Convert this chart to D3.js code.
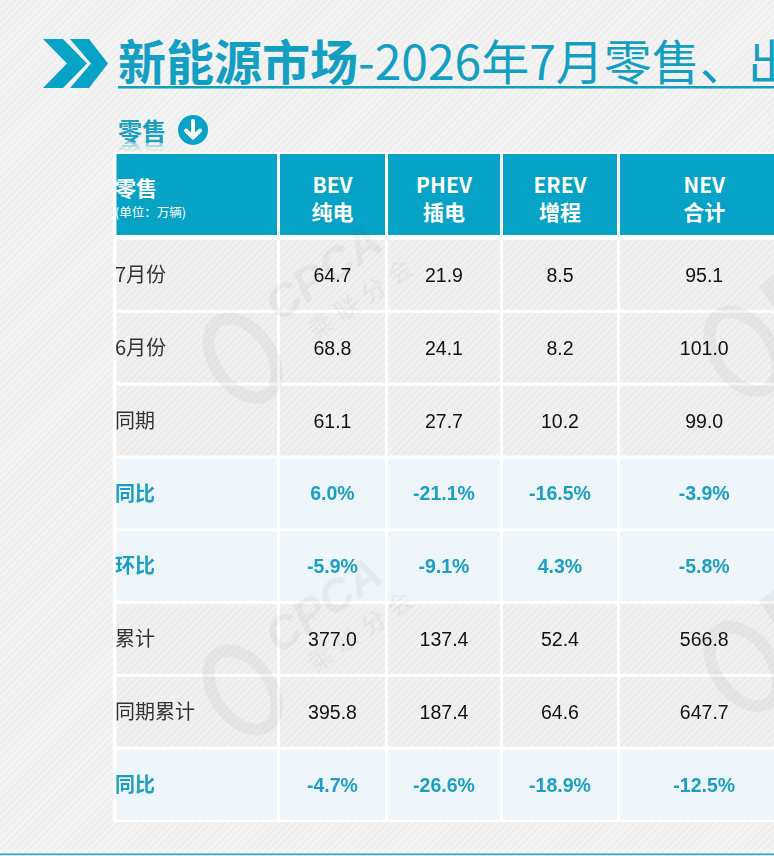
<!DOCTYPE html>
<html><head><meta charset="utf-8">
<script src="https://cdn.jsdelivr.net/npm/d3@7"></script>
<style>
html,body{margin:0;padding:0;background:#f3f3f3;overflow:hidden;}
svg{display:block;}
</style></head>
<body>
<svg id="chart" width="774" height="856"></svg>
<script>
// ---- data ----
const titleBold = "新能源市场";
const titleRest = "-2026年7月零售、出";
const sectionTitle = "零售";
const cornerLabel = "零售";
const unitLabel = "(单位：万辆)";
const seriesCodes = ["BEV", "PHEV", "EREV", "NEV"];
const seriesNames = ["纯电", "插电", "增程", "合计"];
const rowLabels = ["7月份", "6月份", "同期", "同比", "环比", "累计", "同期累计", "同比"];
const rowIsPct = [false, false, false, true, true, false, false, true];
const bev  = [64.7, 68.8, 61.1, 6.0, -5.9, 377.0, 395.8, -4.7];
const phev = [21.9, 24.1, 27.7, -21.1, -9.1, 137.4, 187.4, -26.6];
const erev = [8.5, 8.2, 10.2, -16.5, 4.3, 52.4, 64.6, -18.9];
const nev  = [95.1, 101.0, 99.0, -3.9, -5.8, 566.8, 647.7, -12.5];
const series = [bev, phev, erev, nev];

// ---- style ----
const TEAL = "#07a3c6";
const TEXT_TEAL = "#1d9fc5";
const CJK = "'Noto Sans CJK SC','Noto Sans',sans-serif";
const NUM = "'Liberation Sans',Arial,sans-serif";

const svg = d3.select("#chart");
const defs = svg.append("defs");

function stripes(id, bg, line) {
  const p = defs.append("pattern").attr("id", id).attr("patternUnits", "userSpaceOnUse")
    .attr("width", 5).attr("height", 5).attr("patternTransform", "rotate(-45)");
  p.append("rect").attr("width", 5).attr("height", 5).attr("fill", bg);
  p.append("rect").attr("width", 5).attr("height", 1.6).attr("fill", line);
}
stripes("bgStripe", "#f4f4f4", "#ececec");
stripes("cellStripe", "#f1f1f1", "#e9e9e9");

svg.append("rect").attr("width", 774).attr("height", 856).attr("fill", "url(#bgStripe)");

// ---- title ----
const chev = d3.line();
const chevA = [[43,39],[63,39],[87,63.5],[63,88],[43,88],[67,63.5]];
const chevB = [[70,39],[89,39],[108,63.5],[89,88],[70,88],[91,63.5]];
svg.append("path").attr("d", chev(chevA) + "Z").attr("fill", TEAL);
svg.append("path").attr("d", chev(chevB) + "Z").attr("fill", TEAL);

const title = svg.append("text").attr("x", 118).attr("y", 80)
  .attr("font-family", CJK).attr("font-size", 48).attr("fill", "#139fc2");
title.append("tspan").attr("font-weight", 700).text(titleBold);
title.append("tspan").attr("font-weight", 400).text(titleRest);
svg.append("rect").attr("x", 118).attr("y", 86).attr("width", 700).attr("height", 2.5).attr("fill", "#139fc2");

// section title with reflection
const grad = defs.append("linearGradient").attr("id", "fade").attr("x1", 0).attr("y1", 0).attr("x2", 0).attr("y2", 1);
grad.append("stop").attr("offset", "0%").attr("stop-color", "#fff").attr("stop-opacity", 0.55);
grad.append("stop").attr("offset", "45%").attr("stop-color", "#fff").attr("stop-opacity", 0);
defs.append("mask").attr("id", "fadeMask").attr("maskUnits", "userSpaceOnUse")
  .append("rect").attr("x", 110).attr("y", 141).attr("width", 80).attr("height", 24).attr("fill", "url(#fade)");
svg.append("text").attr("id", "secTitle").attr("x", 118).attr("y", 140).attr("font-family", CJK).attr("font-weight", 700)
  .attr("font-size", 24).attr("fill", TEXT_TEAL).text(sectionTitle);
svg.append("g").attr("mask", "url(#fadeMask)")
  .append("use").attr("href", "#secTitle").attr("transform", "translate(0,282) scale(1,-1)");
svg.append("circle").attr("cx", 193).attr("cy", 130).attr("r", 15).attr("fill", TEAL);
svg.append("path").attr("d", "M193,121 L193,137 M186,130.5 L193,137.5 L200,130.5")
  .attr("stroke", "#fff").attr("stroke-width", 4).attr("fill", "none")
  .attr("stroke-linecap", "round").attr("stroke-linejoin", "round");

// ---- table layout ----
const colEdges = [115, 278.5, 386.5, 501.5, 618.5, 790];
const x0 = i => colEdges[i] + 1.5;
const wCol = i => colEdges[i + 1] - colEdges[i] - 3;
const headerTop = 154, headerBottom = 235;
const y = d3.scaleBand().domain(d3.range(rowLabels.length)).range([238.5, 821]).paddingInner(0.04).paddingOuter(0.02);

svg.append("rect").attr("x", 113).attr("y", 152).attr("width", 700).attr("height", 670).attr("fill", "#ffffff");

// header
const head = svg.append("g");
d3.range(5).forEach(i => {
  head.append("rect").attr("x", x0(i)).attr("y", headerTop).attr("width", wCol(i))
    .attr("height", headerBottom - headerTop).attr("fill", TEAL);
});
head.append("text").attr("x", 115).attr("y", 196).attr("font-family", CJK).attr("font-weight", 700)
  .attr("font-size", 21).attr("fill", "#fff").text(cornerLabel);
head.append("text").attr("x", 115).attr("y", 217).attr("font-family", CJK)
  .attr("font-size", 12.5).attr("fill", "#fff").text(unitLabel);
seriesCodes.forEach((c, k) => {
  const cx = x0(k + 1) + wCol(k + 1) / 2;
  head.append("text").attr("text-anchor", "middle").attr("font-family", CJK)
    .attr("font-weight", 700).attr("font-size", 21).attr("fill", "#fff")
    .attr("x", cx).attr("y", 193).text(c);
  head.append("text").attr("text-anchor", "middle").attr("font-family", CJK)
    .attr("font-weight", 700).attr("font-size", 21).attr("fill", "#fff")
    .attr("x", cx).attr("y", 220).text(seriesNames[k]);
});

// data rows
const loc = d3.formatLocale({decimal: ".", thousands: ",", grouping: [3], currency: ["", ""], minus: "-"});
const fmtNum = loc.format(".1f");
const body = svg.append("g");
rowLabels.forEach((lab, r) => {
  const hi = rowIsPct[r];
  const top = y(r), h = y.bandwidth();
  d3.range(5).forEach(i => {
    body.append("rect").attr("x", x0(i)).attr("y", top).attr("width", wCol(i)).attr("height", h)
      .attr("fill", hi ? "#eff6fb" : "url(#cellStripe)");
  });
});

// watermarks (very faint)
const wm = svg.append("g").attr("opacity", 0.06).attr("fill", "#444");
[[300, 318], [300, 650]].forEach(([cx, cy]) => {
  const g = wm.append("g").attr("transform", `translate(${cx},${cy}) rotate(-35)`);
  g.append("text").attr("x", -20).attr("y", -8).attr("font-size", 46).attr("font-weight", 700)
    .attr("font-family", NUM).attr("font-style", "italic").text("CPCA");
  g.append("text").attr("x", 0).attr("y", 28).attr("font-size", 24).attr("font-family", CJK)
    .attr("letter-spacing", 8).text("乘联分会");
  g.append("ellipse").attr("cx", -70).attr("cy", 0).attr("rx", 28).attr("ry", 44)
    .attr("fill", "none").attr("stroke", "#444").attr("stroke-width", 12);
});
[[760, 340], [760, 655]].forEach(([cx, cy]) => {
  const g = wm.append("g").attr("transform", `translate(${cx},${cy}) rotate(-35)`);
  g.append("ellipse").attr("cx", -20).attr("cy", 0).attr("rx", 28).attr("ry", 44)
    .attr("fill", "none").attr("stroke", "#444").attr("stroke-width", 12);
  g.append("rect").attr("x", 30).attr("y", -45).attr("width", 40).attr("height", 40);
});

const txt = svg.append("g");
rowLabels.forEach((lab, r) => {
  const hi = rowIsPct[r];
  const cy = y(r) + y.bandwidth() / 2;
  txt.append("text").attr("x", 115).attr("y", cy).attr("dy", "0.36em")
    .attr("font-family", CJK).attr("font-size", 20).attr("font-weight", hi ? 700 : 400)
    .attr("fill", hi ? TEXT_TEAL : "#333").text(lab);
  series.forEach((s, k) => {
    const cx = x0(k + 1) + wCol(k + 1) / 2;
    txt.append("text").attr("x", cx).attr("y", cy).attr("dy", "0.36em").attr("text-anchor", "middle")
      .attr("font-family", NUM).attr("font-size", 19.5).attr("font-weight", hi ? 700 : 400)
      .attr("fill", hi ? TEXT_TEAL : "#111")
      .text(hi ? fmtNum(s[r]) + "%" : fmtNum(s[r]));
  });
});

svg.append("rect").attr("x", 0).attr("y", 853.5).attr("width", 774).attr("height", 1.6).attr("fill", "#2aa3c4");
</script>
</body></html>
